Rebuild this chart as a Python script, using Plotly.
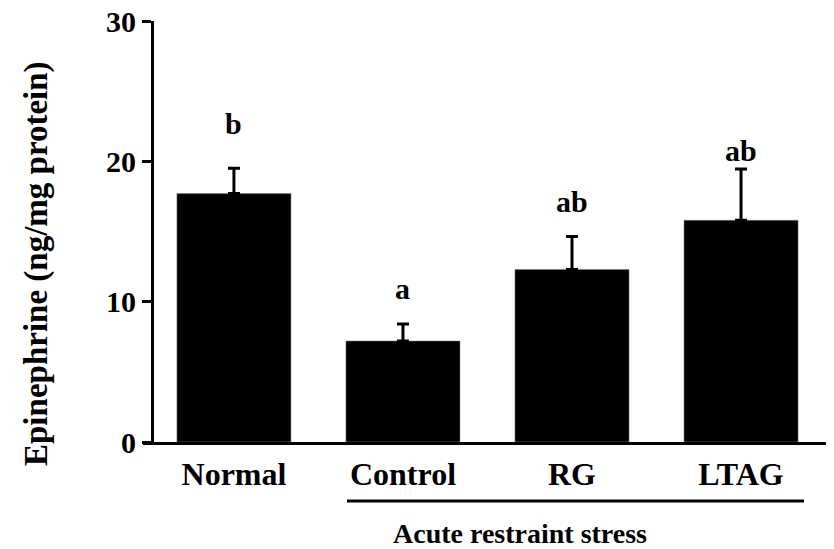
import plotly.graph_objects as go

categories = ["Normal", "Control", "RG", "LTAG"]
means = [17.7, 7.2, 12.3, 15.8]
sems = [1.8, 1.2, 2.35, 3.65]
letters = ["b", "a", "ab", "ab"]
letter_y = [21.35, 9.6, 15.85, 19.45]
y_ticks = [0, 10, 20, 30]
group_label = "Acute restraint stress"
y_title = "Epinephrine (ng/mg protein)"

FONT = "Liberation Serif, Times New Roman, serif"
OFF = 8  # default page body margin
W, H = 834 - OFF, 549 - OFF
L, R, T, B = 143 - OFF, 0, 21 - OFF, 107
pw, ph = W - L - R, H - T - B

fig = go.Figure()
fig.add_trace(go.Bar(
    x=categories, y=means,
    marker=dict(color="black", line=dict(color="#888", width=0.5)),
    error_y=dict(type="data", array=sems, arrayminus=[0] * len(sems),
                 symmetric=False, color="black", thickness=3, width=6),
    showlegend=False,
))

annotations = []
for c, t, yy in zip(categories, letters, letter_y):
    annotations.append(dict(x=c, y=yy, xref="x", yref="y", text=f"<b>{t}</b>",
                            showarrow=False, yanchor="bottom",
                            font=dict(family=FONT, size=30, color="black")))

annotations.append(dict(x=(520 - 143) / pw, y=-(533 - 442) / ph, xref="paper", yref="paper",
                        text=f"<b>{group_label}</b>", showarrow=False,
                        xanchor="center", yanchor="middle",
                        font=dict(family=FONT, size=28, color="black")))
annotations.append(dict(x=(37 - 143) / pw, y=(442 - 264) / ph, xref="paper", yref="paper",
                        text=f"<b>{y_title}</b>", showarrow=False, textangle=-90,
                        xanchor="center", yanchor="middle",
                        font=dict(family=FONT, size=33, color="black")))

fig.add_shape(type="line", xref="paper", yref="paper",
              x0=(347 - 143) / pw, x1=(804 - 143) / pw,
              y0=-(501 - 442) / ph, y1=-(501 - 442) / ph,
              line=dict(color="black", width=3))

fig.update_layout(
    width=W, height=H,
    margin=dict(l=L, r=R, t=T, b=B, pad=0, autoexpand=False),
    plot_bgcolor="white", paper_bgcolor="white",
    bargap=0.325,
    annotations=annotations,
    font=dict(family=FONT, color="black"),
    xaxis=dict(
        range=[-0.538, 3.55], showline=True, linecolor="black", linewidth=3,
        ticks="", showgrid=False, zeroline=False, automargin=False,
        tickfont=dict(family=FONT, size=32, color="black"),
        tickvals=categories, ticktext=[f"<b>{c}</b>" for c in categories],
        ticklabelstandoff=2,
    ),
    yaxis=dict(
        range=[0, 30], anchor="free", position=9 / pw, automargin=False,
        showline=True, linecolor="black", linewidth=3,
        ticks="outside", ticklen=9, tickwidth=3, tickcolor="black",
        tickvals=y_ticks, ticktext=[f"<b>{v}</b>" for v in y_ticks],
        tickfont=dict(family=FONT, size=30, color="black"),
        ticklabeloverflow="allow",
        showgrid=False, zeroline=False,
    ),
)

fig.write_html("out.html")
